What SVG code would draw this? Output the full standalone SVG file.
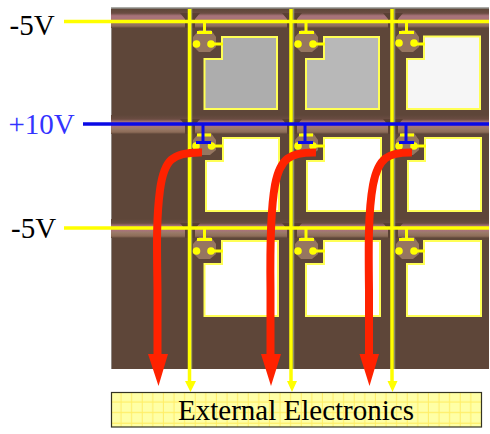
<svg xmlns="http://www.w3.org/2000/svg" width="490" height="434" viewBox="0 0 490 434">
<style>
.lbl{font-family:"Liberation Serif","Times New Roman",serif;font-size:29px}
.y{stroke:#ffff00;fill:none}
.b{stroke:#0a0ae6;fill:none}
.dot{fill:#ffff00}
.pix{stroke:#ffff55;stroke-width:2}
.red{stroke:#ff2200;stroke-width:8;fill:none}
.ra{fill:#ff2200}
.ya{fill:#ffff00}
</style>
<defs>
<linearGradient id="band" x1="0" y1="0" x2="0" y2="1">
<stop offset="0" stop-color="#5e4639"/><stop offset=".22" stop-color="#6a4c42"/><stop offset=".36" stop-color="#a8737a"/><stop offset=".6" stop-color="#a8737a"/><stop offset=".72" stop-color="#9a7a68"/><stop offset=".9" stop-color="#8d6c58"/><stop offset="1" stop-color="#5e4639"/>
</linearGradient>
<pattern id="grid" width="10.6" height="10.6" patternUnits="userSpaceOnUse" x="111" y="392">
<rect width="10.6" height="10.6" fill="#ffffa6"/><path d="M10 0V10.600M0 10H10.600" stroke="#ffee66" stroke-width="1"/>
</pattern>
<g id="band-row">
<rect x="111" y="0" width="378" height="19" fill="url(#band)"/>
<path d="M180 4H200L195 10V19H185V10ZM282 4H302L297 10V19H287V10ZM383 4H403L398 10V19H388V10Z" fill="#5a4034"/>
</g>
<path id="tft" d="M199 30H211L216 37V47L210 52H199L193 46V37Z" fill="#967660"/>
</defs>

<g id="panel">
<rect x="111" y="8" width="378" height="361" fill="#5e4639"/>
<path d="M111 8H489" stroke="#8f8f8a" stroke-width="1.500"/>
<path d="M111.500 8V369" stroke="#8f8782" stroke-width="1"/>
<use href="#band-row" y="9"/>
<use href="#band-row" y="115"/>
<use href="#band-row" y="219"/>
<path d="M191.500 8V369M293.500 8V369M394.500 8V369" stroke="#8f8f6a" stroke-width="1.500"/>
</g>

<g id="row1">
<g id="cell-1-1"><use href="#tft"/><path class="pix" fill="#adadad" d="M222 37H277V109H204.500V59H222Z"/></g>
<g id="cell-1-2"><use href="#tft" x="102"/><path class="pix" fill="#b8b8b8" d="M324 37H379V109H306V59H324Z"/></g>
<g id="cell-1-3"><use href="#tft" x="203"/><path class="pix" fill="#f6f6f6" d="M424 36.500H480V109H407V59H424Z"/></g>
</g>
<g id="row2">
<g id="cell-2-1"><use href="#tft" y="103"/><path class="pix" fill="#ffffff" d="M223 138H279V211H206V161H223Z"/></g>
<g id="cell-2-2"><use href="#tft" x="102" y="103"/><path class="pix" fill="#ffffff" d="M324 138H381V211H307V161H324Z"/></g>
<g id="cell-2-3"><use href="#tft" x="203" y="103"/><path class="pix" fill="#ffffff" d="M425 138H481V211H408V161H425Z"/></g>
</g>
<g id="row3">
<g id="cell-3-1"><use href="#tft" y="207"/><path class="pix" fill="#ffffff" d="M222 241H278V316H204.500V264H222Z"/></g>
<g id="cell-3-2"><use href="#tft" x="102" y="207"/><path class="pix" fill="#ffffff" d="M324 241H380V316H306V264H324Z"/></g>
<g id="cell-3-3"><use href="#tft" x="203" y="207"/><path class="pix" fill="#ffffff" d="M424 241H481V316H407V264H424Z"/></g>
</g>

<g id="connectors">
<g id="columns" class="y" stroke-width="3.500">
<path d="M189.500 9V383M291 9V383M392 9V383"/>
</g>
<path class="ya" d="M185 381H196L190.500 392ZM287 381H297L292 392ZM387.500 381H397.500L392.500 392Z"/>
<g id="gates-yellow" class="y" stroke-width="3">
<path d="M64 21.500H489" stroke-width="3.500"/>
<path d="M64 228H489" stroke-width="3.500"/>
<path d="M204.500 22V32M197 32.500H212M212 44H223M306 22V32M299 32.500H314M314 44H325M406.500 22V32M399 32.500H414M414 44H425"/>
<path d="M197 135H211M212 146H223M299 135H313M314 146H325M400 135H414M415 146H426"/>
<path d="M204.500 229V239M197 239.500H212M212 251H223M306 229V239M299 239.500H314M314 251H325M406.500 229V239M399 239.500H414M414 251H425"/>
</g>
<g class="dot">
<circle cx="196.500" cy="44" r="3.800"/><circle cx="211" cy="44" r="3.800"/><circle cx="298" cy="44" r="3.800"/><circle cx="313" cy="44" r="3.800"/><circle cx="399" cy="43" r="3.800"/><circle cx="414" cy="43" r="3.800"/>
<circle cx="196" cy="146" r="3.800"/><circle cx="211.500" cy="146" r="3.800"/><circle cx="298" cy="146" r="3.800"/><circle cx="313" cy="146" r="3.800"/><circle cx="399" cy="146" r="3.800"/><circle cx="414" cy="146" r="3.800"/>
<circle cx="196.500" cy="251" r="3.800"/><circle cx="211" cy="251" r="3.800"/><circle cx="298" cy="251" r="3.800"/><circle cx="313" cy="251" r="3.800"/><circle cx="399" cy="251" r="3.800"/><circle cx="414" cy="251" r="3.800"/>
</g>
<g id="gates-blue" class="b" stroke-width="3">
<path d="M83 124H489" stroke-width="3.500"/>
<path d="M203 124V142M196 142.500H211M305 124V142M298 142.500H313M406 124V142M399 142.500H414"/>
</g>
<path class="red" d="M202 152.500C172 152 164 160 160 190C156 220 157 250 157.500 290V356"/>
<path class="red" d="M316 152.500C290 152 280 158 275 185C270 212 270 250 270.500 290V356"/>
<path class="red" d="M412 152.500C388 152 378 158 373 185C368 212 368.500 250 369 290V356"/>
<path class="ra" d="M148 354H168L158.500 386ZM261 354H281L271 386ZM359.500 354H379L369.500 386Z"/>
</g>

<g id="external-electronics">
<rect x="111.500" y="392.500" width="370" height="34.500" fill="url(#grid)" stroke="#333322" stroke-width="1.200"/>
<text x="296" y="420" text-anchor="middle" font-family="'Liberation Serif','Times New Roman',serif" font-size="29px" fill="#000">External Electronics</text>
</g>
<g id="labels">
<text class="lbl" x="9.500" y="35" fill="#000">-5V</text>
<text class="lbl" x="8.500" y="134" fill="#3333ff">+10V</text>
<text class="lbl" x="11" y="238" fill="#000">-5V</text>
</g>
</svg>
